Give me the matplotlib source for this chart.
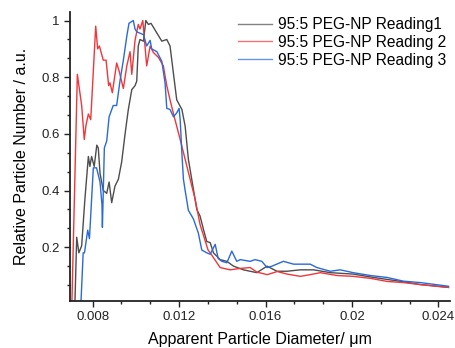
import matplotlib
matplotlib.use("Agg")
import matplotlib.pyplot as plt
from matplotlib.ticker import AutoMinorLocator, FuncFormatter, FixedLocator

plt.rcParams['font.family'] = ['Liberation Sans', 'DejaVu Sans']

# Reading 1 (grey)
x1 = [0.00718, 0.00726, 0.00736, 0.00749, 0.00764, 0.00780, 0.00787, 0.00795, 0.00807, 0.00819,
      0.00826, 0.00834, 0.00849, 0.00865, 0.00876, 0.00888, 0.00903, 0.00919, 0.00934, 0.00950,
      0.00965, 0.00981, 0.00996, 0.01004, 0.01011, 0.01019, 0.01035, 0.01046, 0.01058, 0.01070,
      0.01097, 0.01120, 0.01143, 0.01158, 0.01189, 0.01213, 0.01228, 0.01243, 0.01282, 0.01297,
      0.01313, 0.01328, 0.01344, 0.01359, 0.01390, 0.01421, 0.01452, 0.01498, 0.01560, 0.01607,
      0.01653, 0.01699, 0.01761, 0.01823, 0.01900, 0.02006, 0.02085, 0.02164, 0.02238, 0.02317,
      0.02447]
y1 = [0.01, 0.235, 0.18, 0.205, 0.37, 0.52, 0.485, 0.52, 0.485, 0.56,
      0.55, 0.46, 0.40, 0.39, 0.43, 0.357, 0.415, 0.44, 0.50, 0.60,
      0.686, 0.756, 0.77, 0.786, 0.91, 0.933, 0.927, 1.0, 0.986, 0.99,
      0.956, 0.927, 0.933, 0.91, 0.72, 0.686, 0.627, 0.51, 0.333, 0.31,
      0.262, 0.22, 0.216, 0.18, 0.156, 0.15, 0.133, 0.12, 0.11, 0.133,
      0.115, 0.115, 0.12, 0.12, 0.11, 0.105, 0.095, 0.086, 0.078, 0.068,
      0.058]

# Reading 2 (red)
x2 = [0.00704, 0.00729, 0.00749, 0.00761, 0.00769, 0.00780, 0.00791, 0.00814, 0.00823, 0.00831,
      0.00849, 0.00862, 0.00874, 0.00880, 0.00891, 0.00911, 0.00923, 0.00942, 0.00958, 0.00973,
      0.00981, 0.00996, 0.01011, 0.01019, 0.01032, 0.01050, 0.01066, 0.01081, 0.01104, 0.01127,
      0.01143, 0.01158, 0.01181, 0.01205, 0.01228, 0.01274, 0.01297, 0.01334, 0.01344, 0.01390,
      0.01436, 0.01483, 0.01529, 0.01560, 0.01608, 0.01654, 0.01700, 0.01761, 0.01807, 0.01854,
      0.01930, 0.02006, 0.02085, 0.02164, 0.02238, 0.02317, 0.02447]
y2 = [0.01, 0.81, 0.70, 0.58, 0.63, 0.67, 0.65, 0.98, 0.90, 0.91,
      0.86, 0.86, 0.77, 0.78, 0.745, 0.85, 0.82, 0.76, 0.84, 0.89,
      0.81, 0.93, 0.986, 0.97, 1.0, 0.84, 0.91, 0.887, 0.87, 0.84,
      0.77, 0.72, 0.65, 0.58, 0.51, 0.37, 0.28, 0.19, 0.18, 0.128,
      0.12, 0.125, 0.128, 0.112, 0.103, 0.114, 0.105, 0.097, 0.103, 0.11,
      0.10, 0.097, 0.09, 0.079, 0.075, 0.068, 0.058]

# Reading 3 (blue)
x3 = [0.00746, 0.00756, 0.00762, 0.00777, 0.00785, 0.00803, 0.00818, 0.00834, 0.00843, 0.00845,
      0.00854, 0.00865, 0.00876, 0.00895, 0.00911, 0.00927, 0.00942, 0.00958, 0.00968, 0.00988,
      0.00996, 0.01004, 0.01035, 0.01050, 0.01066, 0.01073, 0.01097, 0.01120, 0.01135, 0.01143,
      0.01158, 0.01174, 0.01189, 0.01200, 0.01205, 0.01213, 0.01220, 0.01228, 0.01243, 0.01266,
      0.01289, 0.01305, 0.01328, 0.01344, 0.01367, 0.01381, 0.01398, 0.01421, 0.01444, 0.01467,
      0.01483, 0.01529, 0.01552, 0.01583, 0.01607, 0.01630, 0.01683, 0.01730, 0.01807, 0.01838,
      0.01900, 0.01946, 0.02006, 0.02085, 0.02164, 0.02238, 0.02317, 0.02447]
y3 = [0.01, 0.18, 0.18, 0.26, 0.23, 0.48, 0.48, 0.43, 0.35, 0.27,
      0.55, 0.575, 0.66, 0.70, 0.70, 0.79, 0.86, 0.945, 0.99, 1.0,
      0.97, 0.96, 0.95, 0.91, 0.93, 0.90, 0.89, 0.856, 0.78, 0.69,
      0.686, 0.66, 0.674, 0.69, 0.65, 0.53, 0.44, 0.40, 0.33, 0.30,
      0.25, 0.19, 0.18, 0.175, 0.21, 0.16, 0.15, 0.145, 0.186, 0.15,
      0.156, 0.15, 0.156, 0.15, 0.128, 0.133, 0.15, 0.14, 0.14, 0.128,
      0.115, 0.12, 0.11, 0.10, 0.093, 0.08, 0.075, 0.062]

labels = ['95:5 PEG-NP Reading1', '95:5 PEG-NP Reading 2', '95:5 PEG-NP Reading 3']
colors = ['#4d4d4d', '#f0363a', '#2a6ad8']
x_ticks = [0.008, 0.012, 0.016, 0.02, 0.024]
y_ticks = [0.2, 0.4, 0.6, 0.8, 1.0]

fig = plt.figure(figsize=(4.56, 3.48), dpi=100)
ax = fig.add_axes([70 / 456, 1 - 301 / 348, 380 / 456, 289 / 348])

for xs, ys, c, lab in zip([x1, x2, x3], [y1, y2, y3], colors, labels):
    ax.plot(xs, ys, color=c, lw=1.0, label=lab)

ax.set_xlim(0.00695, 0.02454)
ax.set_ylim(0.01, 1.03)
ax.xaxis.set_major_locator(FixedLocator(x_ticks))
ax.yaxis.set_major_locator(FixedLocator(y_ticks))
ax.xaxis.set_minor_locator(AutoMinorLocator(3))
ax.yaxis.set_minor_locator(AutoMinorLocator(3))
fmt = FuncFormatter(lambda v, p: '%g' % round(v, 4))
ax.xaxis.set_major_formatter(fmt)
ax.yaxis.set_major_formatter(fmt)

for s in ['top', 'right']:
    ax.spines[s].set_visible(False)
for s in ['left', 'bottom']:
    ax.spines[s].set_linewidth(1.3)
    ax.spines[s].set_color('#222222')
ax.tick_params(which='major', direction='out', length=4, width=1, labelsize=9.5, colors='#222222')
ax.tick_params(which='minor', direction='out', length=2.5, width=1, colors='#222222')

ax.set_xlabel('Apparent Particle Diameter/ \u03bcm', fontsize=11.5, labelpad=6)
ax.set_ylabel('Relative Particle Number / a.u.', fontsize=11.5, labelpad=9)

leg = ax.legend(loc='upper left', bbox_to_anchor=(238 / 456, 1 - 17 / 348),
                bbox_transform=fig.transFigure, frameon=False, fontsize=11.2,
                handlelength=2.2, handletextpad=0.35, labelspacing=0.18,
                borderpad=0, borderaxespad=0)
for h in leg.get_lines():
    h.set_alpha(0.7)

fig.savefig('out.png', dpi=100)
